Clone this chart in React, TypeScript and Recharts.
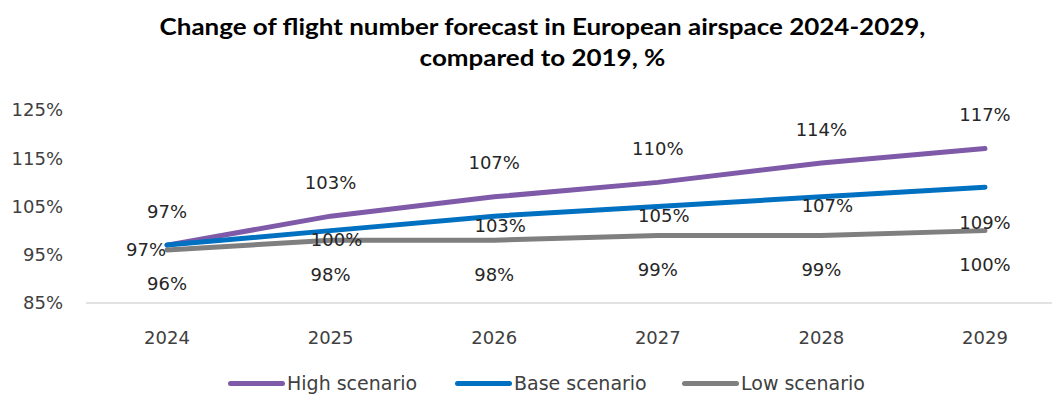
import { LineChart, Line, XAxis, YAxis, LabelList } from "recharts";

const YEARS = ["2024", "2025", "2026", "2027", "2028", "2029"];
const HIGH = [97, 103, 107, 110, 114, 117];
const BASE = [97, 100, 103, 105, 107, 109];
const LOW = [96, 98, 98, 99, 99, 100];
const Y_TICKS = [85, 95, 105, 115, 125];

const SERIES = [
  { key: "high", name: "High scenario", color: "#7E5AA8" },
  { key: "base", name: "Base scenario", color: "#0070C0" },
  { key: "low", name: "Low scenario", color: "#7F7F7F" },
];

const FONT = "'DejaVu Sans', sans-serif";
const TEXT = "#262626";

const data = YEARS.map((year, i) => ({ year, high: HIGH[i], base: BASE[i], low: LOW[i] }));

const pct = (v: number) => `${v}%`;

function HighLabel(props: any) {
  const { x, y, value } = props;
  return (
    <text x={x} y={y - 34} dy="0.36em" textAnchor="middle" fill={TEXT} fontSize={18} fontFamily={FONT}>
      {pct(value)}
    </text>
  );
}

function BaseLabel(props: any) {
  const { x, y, value, index } = props;
  // excel put these all over the place
  if (index === 0) {
    return (
      <text x={x - 1} y={y + 4} dy="0.36em" textAnchor="end" fill={TEXT} fontSize={18} fontFamily={FONT}>
        {pct(value)}
      </text>
    );
  }
  const dy = index === YEARS.length - 1 ? 35 : 9;
  const dx = index === YEARS.length - 1 ? 0 : 6;
  return (
    <text x={x + dx} y={y + dy} dy="0.36em" textAnchor="middle" fill={TEXT} fontSize={18} fontFamily={FONT}>
      {pct(value)}
    </text>
  );
}

function LowLabel(props: any) {
  const { x, y, value } = props;
  return (
    <text x={x} y={y + 34} dy="0.36em" textAnchor="middle" fill={TEXT} fontSize={18} fontFamily={FONT}>
      {pct(value)}
    </text>
  );
}

export default function App() {
  return (
    <div style={{ position: "absolute", left: 0, top: 0, width: 1052, height: 396, overflow: "hidden", background: "#fff" }}>
      <div
        style={{
          position: "absolute",
          left: 32,
          top: 11,
          width: 1020,
          textAlign: "center",
          fontFamily: "Lato, sans-serif",
          fontWeight: 700,
          fontSize: 22,
          lineHeight: "31px",
          color: "#000",
        }}
      >
        <div style={{ display: "inline-block", transform: "scaleX(1.18)" }}>
          Change of flight number forecast in European airspace 2024-2029,
          <br />
          compared to 2019, %
        </div>
      </div>
      <LineChart width={1052} height={396} data={data} margin={{ top: 110, right: 0, bottom: 53, left: 16 }}>
        <XAxis
          dataKey="year"
          padding={{ left: 81, right: 67 }}
          height={40}
          tickSize={0}
          tickMargin={28}
          axisLine={{ stroke: "#D9D9D9", strokeWidth: 1.5 }}
          tick={{ fill: "#404040", fontSize: 18, fontFamily: FONT }}
        />
        <YAxis
          width={70}
          domain={[85, 125]}
          ticks={Y_TICKS}
          tickFormatter={pct}
          axisLine={false}
          tickSize={0}
          tickMargin={23}
          tick={{ fill: "#404040", fontSize: 18, fontFamily: FONT }}
        />
        <Line dataKey="high" stroke={SERIES[0].color} strokeWidth={5} strokeLinecap="round" dot={false} isAnimationActive={false}>
          <LabelList dataKey="high" content={HighLabel} />
        </Line>
        <Line dataKey="base" stroke={SERIES[1].color} strokeWidth={5} strokeLinecap="round" dot={false} isAnimationActive={false}>
          <LabelList dataKey="base" content={BaseLabel} />
        </Line>
        <Line dataKey="low" stroke={SERIES[2].color} strokeWidth={5} strokeLinecap="round" dot={false} isAnimationActive={false}>
          <LabelList dataKey="low" content={LowLabel} />
        </Line>
      </LineChart>
      <div
        style={{
          position: "absolute",
          left: 228,
          top: 372,
          display: "flex",
          alignItems: "center",
          fontFamily: FONT,
          fontSize: 19,
          lineHeight: "22px",
          color: "#404040",
          whiteSpace: "nowrap",
        }}
      >
        {SERIES.map((s) => (
          <div key={s.key} style={{ display: "flex", alignItems: "center", width: 227 }}>
            <span style={{ display: "inline-block", width: 57, height: 5, borderRadius: 3, background: s.color, marginRight: 2 }} />
            <span>{s.name}</span>
          </div>
        ))}
      </div>
    </div>
  );
}
